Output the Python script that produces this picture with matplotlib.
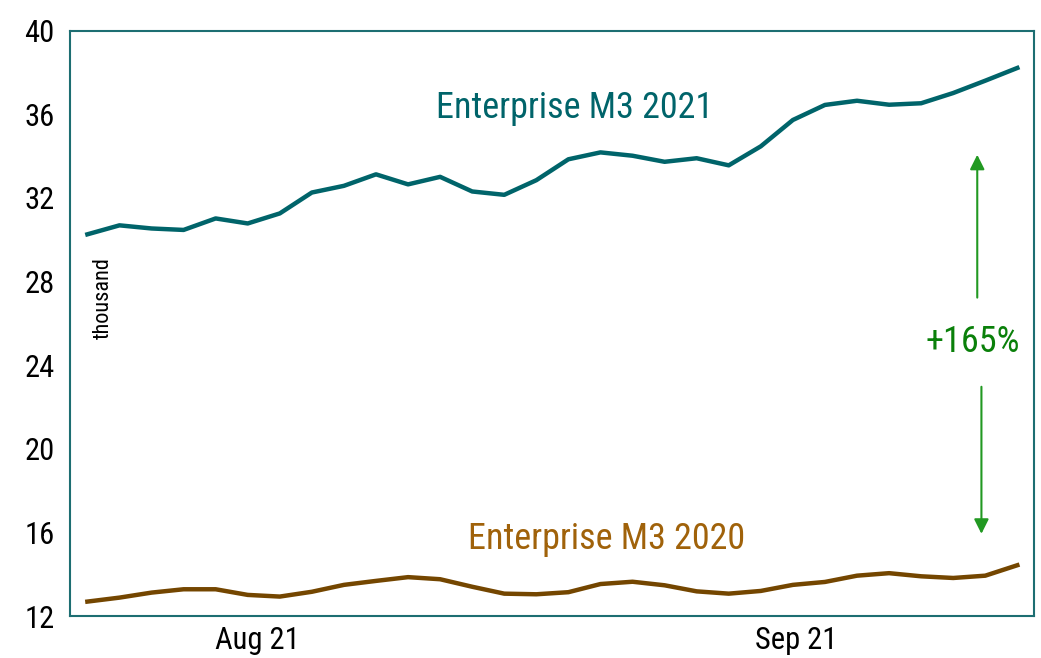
import matplotlib.pyplot as plt
from matplotlib import font_manager

# weekly-ish observations, thousand
m3_2021 = [30.26, 30.69, 30.54, 30.47, 31.02, 30.78, 31.26, 32.26, 32.58, 33.13,
           32.65, 33.01, 32.31, 32.15, 32.85, 33.85, 34.18, 34.02, 33.73, 33.90,
           33.56, 34.47, 35.73, 36.45, 36.65, 36.46, 36.53, 37.02, 37.61, 38.22]
m3_2020 = [12.69, 12.88, 13.12, 13.28, 13.28, 13.01, 12.93, 13.16, 13.49, 13.68,
           13.86, 13.76, 13.40, 13.07, 13.04, 13.14, 13.53, 13.64, 13.47, 13.18,
           13.07, 13.20, 13.49, 13.63, 13.93, 14.05, 13.90, 13.82, 13.93, 14.43]
month_labels = ["Aug 21", "Sep 21"]
month_pos = [5.3, 22.1]
y_ticks = [12, 16, 20, 24, 28, 32, 36, 40]

# look for a condensed sans, the original uses an Arial Narrow look
fonts = font_manager.fontManager.ttflist
narrow = None
for f in fonts:
    if f.name in ("Liberation Sans Narrow", "Roboto Condensed", "Open Sans Condensed"):
        narrow = f.name
        break
stretch = 'normal'
if narrow is None:
    for f in fonts:
        if f.stretch in ('condensed', 'semi-condensed', 587, 500) or 'Condensed' in f.fname:
            narrow = f.name
            stretch = f.stretch
            break
if narrow is None:
    narrow = "Liberation Sans"
plt.rcParams['font.family'] = [narrow, 'DejaVu Sans']
plt.rcParams['font.stretch'] = stretch

teal = "#00646a"
brown = "#744600"

fig = plt.figure(figsize=(10.41, 6.58), dpi=100)
ax = fig.add_axes([0.067, 0.0638, 0.9266, 0.8895])

x = list(range(len(m3_2021)))
ax.plot(x, m3_2021, color=teal, lw=3.2, solid_joinstyle='round')
ax.plot(x, m3_2020, color=brown, lw=3.2, solid_joinstyle='round')

ax.set_xlim(-0.55, 29.53)
ax.set_ylim(12, 40)
ax.set_yticks(y_ticks)
ax.set_xticks(month_pos)
ax.set_xticklabels(month_labels)
ax.tick_params(length=0, labelsize=22, pad=11)
ax.tick_params(axis='x', pad=7)

for s in ax.spines.values():
    s.set_color("#1d6e72")
    s.set_linewidth(1.5)

ax.text(15.2, 36.3, "Enterprise M3 2021", color=teal, fontsize=26, ha='center', va='center')
ax.text(16.2, 15.7, "Enterprise M3 2020", color="#a0620a", fontsize=26, ha='center', va='center')
ax.text(0.5, 27.2, "thousand", color="black", fontsize=16, rotation=90, ha='center', va='center')

# growth arrows
ax.annotate("", xy=(27.75, 34.2), xytext=(27.75, 27.1),
            arrowprops=dict(arrowstyle='-|>', color='#229922', lw=1.5, mutation_scale=22))
ax.annotate("", xy=(27.88, 15.8), xytext=(27.88, 23.1),
            arrowprops=dict(arrowstyle='-|>', color='#229922', lw=1.5, mutation_scale=22))
ax.text(27.6, 25.1, "+165%", color="#0a800a", fontsize=26, ha='center', va='center')

fig.savefig("out.png", dpi=100)
